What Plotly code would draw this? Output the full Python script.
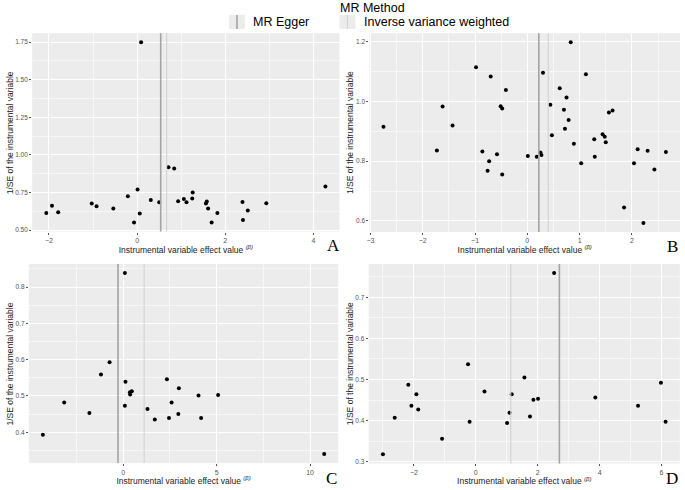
"""
Gráfico de embudo (funnel plot) de MR en cuatro paneles A-D
"""
import plotly.graph_objects as go

# Datos: efecto (beta) y 1/SE de cada variable instrumental
a_beta = [-2.06, -1.93, -1.79, -1.03, -0.92, -0.54, -0.21, -0.07, 0.01, 0.06, 0.09,
          0.31, 0.50, 0.71, 0.84, 0.93, 1.06, 1.12, 1.25, 1.26, 1.56, 1.58, 1.61,
          1.69, 1.82, 2.39, 2.40, 2.51, 2.93, 4.27]
a_inv_se = [0.613, 0.661, 0.619, 0.677, 0.659, 0.644, 0.725, 0.551, 0.770, 0.610, 1.750,
            0.700, 0.685, 0.917, 0.909, 0.692, 0.707, 0.685, 0.710, 0.750, 0.677, 0.690,
            0.644, 0.551, 0.613, 0.686, 0.566, 0.630, 0.679, 0.790]

b_beta = [-2.75, -1.73, -1.62, -1.43, -0.98, -0.86, -0.73, -0.70, -0.76, -0.58, -0.51,
          -0.48, -0.48, -0.41, 0.01, 0.18, 0.25, 0.27, 0.30, 0.44, 0.47, 0.62, 0.70,
          0.72, 0.75, 0.79, 0.83, 0.89, 1.03, 1.12, 1.28, 1.29, 1.44, 1.48, 1.50,
          1.56, 1.63, 1.85, 2.04, 2.11, 2.22, 2.30, 2.43, 2.65]
b_inv_se = [0.915, 0.836, 0.983, 0.919, 1.114, 0.832, 0.800, 1.083, 0.768, 0.823, 0.984,
            0.976, 0.755, 1.038, 0.817, 0.815, 0.829, 0.821, 1.096, 0.989, 0.887, 1.044,
            0.972, 0.908, 1.013, 0.938, 1.198, 0.858, 0.793, 1.091, 0.873, 0.815, 0.890,
            0.882, 0.863, 0.963, 0.969, 0.645, 0.793, 0.840, 0.593, 0.835, 0.772, 0.831]

c_beta = [-4.30, -3.16, -1.81, -1.19, -0.73, 0.09, 0.12, 0.09, 0.36, 0.37, 0.46,
          1.30, 1.69, 2.34, 2.45, 2.59, 2.95, 2.98, 4.03, 4.17, 5.08, 10.76]
c_inv_se = [0.393, 0.482, 0.453, 0.559, 0.593, 0.839, 0.539, 0.473, 0.510, 0.504, 0.513,
            0.464, 0.435, 0.546, 0.439, 0.482, 0.450, 0.521, 0.501, 0.439, 0.503, 0.340]

d_beta = [-3.00, -2.62, -2.18, -2.08, -1.92, -1.86, -1.09, -0.25, -0.20, 0.28, 1.01,
          1.09, 1.16, 1.57, 1.75, 1.86, 2.01, 2.53, 3.86, 5.24, 5.98, 6.13]
d_inv_se = [0.318, 0.407, 0.487, 0.436, 0.464, 0.427, 0.356, 0.537, 0.397, 0.471, 0.394,
            0.419, 0.464, 0.505, 0.410, 0.451, 0.453, 0.759, 0.456, 0.436, 0.492, 0.397]

# Estimaciones de cada método MR (líneas verticales)
egger_est = [0.535, 0.22, -0.28, 2.70]
ivw_est = [0.67, 0.40, 1.12, 1.13]

# Marcas de los ejes
x_ticks = [[-2, 0, 2, 4], [-3, -2, -1, 0, 1, 2], [0, 5, 10], [-2, 0, 2, 4, 6]]
y_ticks = [[0.50, 0.75, 1.00, 1.25, 1.50, 1.75], [0.6, 0.8, 1.0, 1.2],
           [0.4, 0.5, 0.6, 0.7, 0.8], [0.3, 0.4, 0.5, 0.6, 0.7]]

panel_letters = ['A', 'B', 'C', 'D']
W, H = 685, 490

# Colores estilo ggplot
PANEL_BG = '#ECECEC'
EGGER_COL = '#A3A3A3'
IVW_COL = '#D2D2D2'
TEXT_FONT = 'Liberation Sans, Arial, sans-serif'


def px_x(v):
    return v / W


def px_y(v):
    return 1 - v / H


# Dominios de cada panel en pixeles (izq, der, arriba, abajo)
dominios = [
    (29.3, 338.0, 33.3, 232.5),
    (368.0, 680.0, 33.3, 233.0),
    (26.0, 336.7, 265.0, 465.0),
    (367.3, 679.8, 265.0, 465.3),
]
rangos_x = [[-2.38, 4.59], [-3.02, 2.92], [-5.05, 11.51], [-3.46, 6.59]]
rangos_y = [[0.49, 1.81], [0.563, 1.228], [0.315, 0.864], [0.296, 0.781]]
dticks = [(2, 0.25), (1, 0.2), (5, 0.1), (2, 0.1)]
formatos_y = ['.2f', '.1f', '.1f', '.1f']
pos_letras = [(332, 247), (672, 248), (330, 480), (672, 480)]
x_titulo_y = [7, 348, 7, 348]

datos = [(a_beta, a_inv_se), (b_beta, b_inv_se), (c_beta, c_inv_se), (d_beta, d_inv_se)]

fig = go.Figure()
layout_axes = {}
shapes = []
annotations = []

for i, (betas, inv_se) in enumerate(datos):
    n = '' if i == 0 else str(i + 1)
    fig.add_trace(go.Scatter(
        x=betas, y=inv_se, mode='markers',
        marker=dict(color='black', size=4),
        xaxis='x' + n, yaxis='y' + n, showlegend=False,
    ))
    izq, der, arr, aba = dominios[i]
    dx, dy = dticks[i]
    layout_axes['xaxis' + n] = dict(
        domain=[px_x(izq), px_x(der)], anchor='y' + n, range=rangos_x[i],
        tickmode='array', tickvals=x_ticks[i],
        showgrid=True, gridcolor='white', gridwidth=1.1,
        minor=dict(tickmode='linear', dtick=dx / 2, tick0=0, showgrid=True,
                   gridcolor='#F7F7F7', gridwidth=0.8),
        zeroline=False, ticks='outside', ticklen=2, tickcolor='#555',
        tickfont=dict(size=7, color='#555', family=TEXT_FONT),
        title=dict(text='Instrumental variable effect value <sup><i>(β)</i></sup>',
                   font=dict(size=8.5, color='#222', family=TEXT_FONT), standoff=1),
        showline=False,
    )
    layout_axes['yaxis' + n] = dict(
        domain=[px_y(aba), px_y(arr)], anchor='x' + n, range=rangos_y[i],
        tickmode='array', tickvals=y_ticks[i], tickformat=formatos_y[i],
        showgrid=True, gridcolor='white', gridwidth=1.1,
        minor=dict(tickmode='linear', dtick=dy / 2, tick0=0, showgrid=True,
                   gridcolor='#F7F7F7', gridwidth=0.8),
        zeroline=False, ticks='outside', ticklen=2, tickcolor='#555',
        tickfont=dict(size=6.5, color='#555', family=TEXT_FONT),
        showline=False,
    )
    # Título del eje y como anotación (alineado igual en todos los paneles)
    annotations.append(dict(
        text='1/SE of the instrumental variable', textangle=-90,
        xref='paper', yref='paper', x=px_x(x_titulo_y[i]), y=px_y((arr + aba) / 2),
        xanchor='center', yanchor='middle', showarrow=False,
        font=dict(size=8.5, color='#222', family='Liberation Sans Narrow, ' + TEXT_FONT),
    ))
    # Líneas verticales de las estimaciones MR
    shapes.append(dict(type='line', xref='x' + n, yref='y' + n + ' domain',
                       x0=egger_est[i], x1=egger_est[i], y0=0, y1=1,
                       line=dict(color=EGGER_COL, width=1.6)))
    shapes.append(dict(type='line', xref='x' + n, yref='y' + n + ' domain',
                       x0=ivw_est[i], x1=ivw_est[i], y0=0, y1=1,
                       line=dict(color=IVW_COL, width=1.1)))
    # Letra del panel
    lx, ly = pos_letras[i]
    annotations.append(dict(
        text=panel_letters[i], xref='paper', yref='paper',
        x=px_x(lx), y=px_y(ly), xanchor='center', yanchor='middle', showarrow=False,
        font=dict(size=17, family='Liberation Serif, Times New Roman, serif', color='black'),
    ))

# Leyenda manual estilo ggplot
annotations.append(dict(text='MR Method', xref='paper', yref='paper',
                        x=px_x(371), y=px_y(8.5), xanchor='center', yanchor='middle',
                        showarrow=False,
                        font=dict(size=12.5, color='black', family=TEXT_FONT)))
leyenda = [('MR Egger', EGGER_COL, 1.6, 227.0, 249.5),
           ('Inverse variance weighted', IVW_COL, 1.1, 338.0, 360.5)]
for etiqueta, color, ancho, x_key, x_txt in leyenda:
    shapes.append(dict(type='rect', xref='paper', yref='paper',
                       x0=px_x(x_key), x1=px_x(x_key + 16), y0=px_y(29), y1=px_y(15),
                       fillcolor=PANEL_BG, line=dict(width=0), layer='below'))
    shapes.append(dict(type='line', xref='paper', yref='paper',
                       x0=px_x(x_key + 8), x1=px_x(x_key + 8), y0=px_y(29), y1=px_y(15),
                       line=dict(color=color, width=ancho)))
    annotations.append(dict(text=etiqueta, xref='paper', yref='paper',
                            x=px_x(x_txt), y=px_y(22), xanchor='left', yanchor='middle',
                            showarrow=False,
                            font=dict(size=12.5, color='black', family=TEXT_FONT)))

fig.update_layout(
    width=W, height=H,
    margin=dict(l=0, r=0, t=0, b=0),
    paper_bgcolor='white',
    plot_bgcolor=PANEL_BG,
    showlegend=False,
    shapes=shapes,
    annotations=annotations,
    **layout_axes,
)

# Quitar el margen del body para que la figura ocupe la ventana exacta
fig.write_html("out.html", config={'displayModeBar': False},
               post_script="document.body.style.margin='0';")
